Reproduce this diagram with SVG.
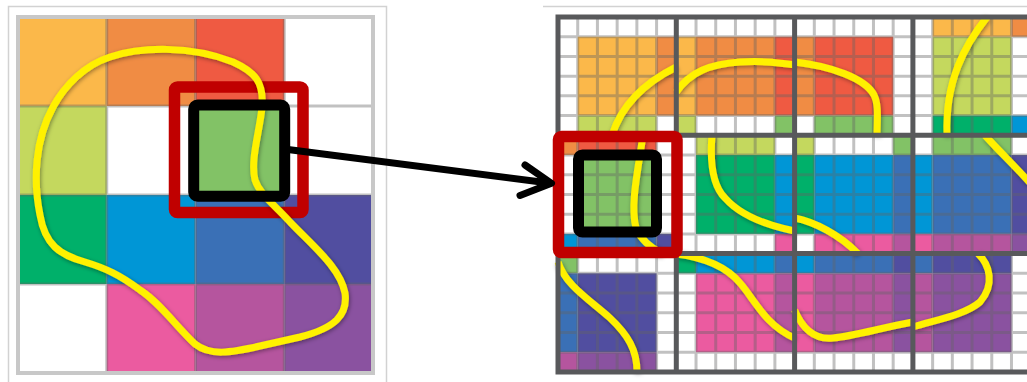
<svg xmlns="http://www.w3.org/2000/svg" width="1027" height="382" viewBox="0 0 1027 382">
  <defs>
    <style>
      .cA{fill:#FBB84A}.cB{fill:#F08C44}.cC{fill:#EF5A42}.cD{fill:#C4D85E}
      .cE{fill:#82C266}.cF{fill:#00B06A}.cG{fill:#0096D6}.cH{fill:#3A70B6}
      .cI{fill:#514EA0}.cJ{fill:#EB5BA0}.cK{fill:#B5559E}.cL{fill:#8A52A0}
      .fine{fill:none;stroke:rgba(100,100,100,0.4);stroke-width:3}
      .frame{fill:none;stroke:#C8C8C8;stroke-width:4}
      .edge{fill:none;stroke:#D2D2D2;stroke-width:1.5}
      .tile-line{fill:none;stroke:#58595B;stroke-width:5}
      .curve{fill:none;stroke:#FFF100;stroke-width:7;filter:url(#shade)}
      .halo{fill:none;stroke:#C00000;stroke-width:11.5}
      .cell{fill:none;stroke:#000;stroke-width:11}
      .arrow{fill:none;stroke:#000;stroke-width:7;stroke-linecap:round;stroke-linejoin:round}
    </style>
    <filter id="shade" filterUnits="userSpaceOnUse" x="0" y="0" width="1027" height="382">
      <feDropShadow dx="1" dy="1.5" stdDeviation="2" flood-color="#000" flood-opacity="0.4"/>
    </filter>
  </defs>

  <rect width="1027" height="382" fill="#FFFFFF"/>

  <!-- outer panel edges -->
  <path class="edge" d="M8.5,382 V6.5 H386.5 V382"/>
  <path class="edge" d="M543,6.5 H1027"/>

  <!-- source 4x4 grid -->
  <g id="source-grid">
    <rect class="cA" x="18" y="17" width="88.75" height="89"/>
    <rect class="cB" x="106.75" y="17" width="88.75" height="89"/>
    <rect class="cC" x="195.5" y="17" width="88.75" height="89"/>
    <rect class="cD" x="18" y="106" width="88.75" height="89"/>
    <rect class="cE" x="195.5" y="106" width="88.75" height="89"/>
    <rect class="cF" x="18" y="195" width="88.75" height="89"/>
    <rect class="cG" x="106.75" y="195" width="88.75" height="89"/>
    <rect class="cH" x="195.5" y="195" width="88.75" height="89"/>
    <rect class="cI" x="284.25" y="195" width="88.75" height="89"/>
    <rect class="cJ" x="106.75" y="284" width="88.75" height="89"/>
    <rect class="cK" x="195.5" y="284" width="88.75" height="89"/>
    <rect class="cL" x="284.25" y="284" width="88.75" height="89"/>
    <path class="fine" d="M106.75,17V373M195.5,17V373M284.25,17V373M18,106H373M18,195H373M18,284H373"/>
    <rect class="frame" x="18" y="17" width="355" height="356"/>
  </g>

  <g id="source-halo">
    <rect class="halo" x="174.5" y="87" width="128.5" height="125.5" rx="3"/>
  </g>

  <g id="source-curve">
    <path class="curve" d="M110,57 C140,47 190,45 233,62 C255,72 264,82 262,107 C260,130 250,160 255,180 C260,195 275,205 290,222 C315,248 340,268 345,293 C348,315 335,328 300,337 L260,346 C230,353 210,356 195,344 C175,325 160,303 140,290 C120,275 105,268 85,262 C60,255 45,245 40,215 C33,180 35,140 53,107 C65,85 85,65 110,57 Z"/>
  </g>

  <g id="source-cell">
    <rect class="cell" x="193.7" y="105" width="91" height="91.3" rx="4"/>
  </g>

  <!-- tiled copy: each tile is one filled cell plus a one-sub-cell ring of its neighbours -->
  <g id="tiles">
    <g id="tile-0" transform="translate(558,17) scale(19.7167)">
      <rect class="cA" x="1" y="1" width="4" height="4"/>
      <rect class="cB" x="5" y="1" width="1" height="4"/>
      <rect class="cD" x="1" y="5" width="4" height="1"/>
    </g>
    <g id="tile-1" transform="translate(676.3,17) scale(19.7167)">
      <rect class="cB" x="1" y="1" width="4" height="4"/>
      <rect class="cA" x="0" y="1" width="1" height="4"/>
      <rect class="cC" x="5" y="1" width="1" height="4"/>
      <rect class="cD" x="0" y="5" width="1" height="1"/>
      <rect class="cE" x="5" y="5" width="1" height="1"/>
    </g>
    <g id="tile-2" transform="translate(794.6,17) scale(19.7167)">
      <rect class="cC" x="1" y="1" width="4" height="4"/>
      <rect class="cB" x="0" y="1" width="1" height="4"/>
      <rect class="cE" x="1" y="5" width="4" height="1"/>
    </g>
    <g id="tile-3" transform="translate(912.9,17) scale(19.7167)">
      <rect class="cD" x="1" y="1" width="4" height="4"/>
      <rect class="cA" x="1" y="0" width="4" height="1"/>
      <rect class="cB" x="5" y="0" width="1" height="1"/>
      <rect class="cF" x="1" y="5" width="4" height="1"/>
      <rect class="cG" x="5" y="5" width="1" height="1"/>
    </g>
    <g id="tile-4" transform="translate(558,135.3) scale(19.7167)">
      <rect class="cE" x="1" y="1" width="4" height="4"/>
      <rect class="cB" x="0" y="0" width="1" height="1"/>
      <rect class="cC" x="1" y="0" width="4" height="1"/>
      <rect class="cG" x="0" y="5" width="1" height="1"/>
      <rect class="cH" x="1" y="5" width="4" height="1"/>
      <rect class="cI" x="5" y="5" width="1" height="1"/>
    </g>
    <g id="tile-5" transform="translate(676.3,135.3) scale(19.7167)">
      <rect class="cF" x="1" y="1" width="4" height="4"/>
      <rect class="cD" x="1" y="0" width="4" height="1"/>
      <rect class="cG" x="5" y="1" width="1" height="4"/>
      <rect class="cJ" x="5" y="5" width="1" height="1"/>
    </g>
    <g id="tile-6" transform="translate(794.6,135.3) scale(19.7167)">
      <rect class="cG" x="1" y="1" width="4" height="4"/>
      <rect class="cD" x="0" y="0" width="1" height="1"/>
      <rect class="cE" x="5" y="0" width="1" height="1"/>
      <rect class="cF" x="0" y="1" width="1" height="4"/>
      <rect class="cH" x="5" y="1" width="1" height="4"/>
      <rect class="cJ" x="1" y="5" width="4" height="1"/>
      <rect class="cK" x="5" y="5" width="1" height="1"/>
    </g>
    <g id="tile-7" transform="translate(912.9,135.3) scale(19.7167)">
      <rect class="cH" x="1" y="1" width="4" height="4"/>
      <rect class="cE" x="1" y="0" width="4" height="1"/>
      <rect class="cG" x="0" y="1" width="1" height="4"/>
      <rect class="cI" x="5" y="1" width="1" height="4"/>
      <rect class="cJ" x="0" y="5" width="1" height="1"/>
      <rect class="cK" x="1" y="5" width="4" height="1"/>
      <rect class="cL" x="5" y="5" width="1" height="1"/>
    </g>
    <g id="tile-8" transform="translate(558,253.6) scale(19.7167)">
      <rect class="cI" x="1" y="1" width="4" height="4"/>
      <rect class="cE" x="0" y="0" width="1" height="1"/>
      <rect class="cH" x="0" y="1" width="1" height="4"/>
      <rect class="cK" x="0" y="5" width="1" height="1"/>
      <rect class="cL" x="1" y="5" width="4" height="1"/>
    </g>
    <g id="tile-9" transform="translate(676.3,253.6) scale(19.7167)">
      <rect class="cJ" x="1" y="1" width="4" height="4"/>
      <rect class="cF" x="0" y="0" width="1" height="1"/>
      <rect class="cG" x="1" y="0" width="4" height="1"/>
      <rect class="cH" x="5" y="0" width="1" height="1"/>
      <rect class="cK" x="5" y="1" width="1" height="4"/>
    </g>
    <g id="tile-10" transform="translate(794.6,253.6) scale(19.7167)">
      <rect class="cK" x="1" y="1" width="4" height="4"/>
      <rect class="cG" x="0" y="0" width="1" height="1"/>
      <rect class="cH" x="1" y="0" width="4" height="1"/>
      <rect class="cI" x="5" y="0" width="1" height="1"/>
      <rect class="cJ" x="0" y="1" width="1" height="4"/>
      <rect class="cL" x="5" y="1" width="1" height="4"/>
    </g>
    <g id="tile-11" transform="translate(912.9,253.6) scale(19.7167)">
      <rect class="cL" x="1" y="1" width="4" height="4"/>
      <rect class="cH" x="0" y="0" width="1" height="1"/>
      <rect class="cI" x="1" y="0" width="4" height="1"/>
      <rect class="cK" x="0" y="1" width="1" height="4"/>
    </g>
  </g>

  <!-- sub-cell grid -->
  <g id="tile-grid">
    <path class="fine" d="M577.72,17V371.9M597.43,17V371.9M617.15,17V371.9M636.87,17V371.9M656.58,17V371.9M696.02,17V371.9M715.73,17V371.9M735.45,17V371.9M755.17,17V371.9M774.88,17V371.9M814.32,17V371.9M834.03,17V371.9M853.75,17V371.9M873.47,17V371.9M893.18,17V371.9M932.62,17V371.9M952.33,17V371.9M972.05,17V371.9M991.77,17V371.9M1011.48,17V371.9
      M558,36.72H1031M558,56.43H1031M558,76.15H1031M558,95.87H1031M558,115.58H1031M558,155.02H1031M558,174.73H1031M558,194.45H1031M558,214.17H1031M558,233.88H1031M558,273.32H1031M558,293.03H1031M558,312.75H1031M558,332.47H1031M558,352.18H1031"/>
  </g>

  <!-- curve pieces seen inside each tile -->
  <g id="tile-curves">
    <path class="curve" d="M612,135.3 C620,110 640,85 676.3,67"/>
    <path class="curve" d="M676.3,92 C690,72 710,64 740,62 S785,64 794.6,65"/>
    <path class="curve" d="M794.6,62 C830,66 865,78 874,95 C879,105 877,120 877,135.3"/>
    <path class="curve" d="M987,17 C965,45 945,80 947,135.3"/>
    <path class="curve" d="M643,135.3 C638,170 630,205 636,228 C642,242 655,250 662,253.6"/>
    <path class="curve" d="M712,135.3 C710,160 712,185 725,198 C740,215 765,225 794.6,231"/>
    <path class="curve" d="M794.6,218 C815,222 840,235 858,253.6"/>
    <path class="curve" d="M985,135.3 C1000,152 1015,166 1030,183"/>
    <path class="curve" d="M558,262 C565,285 590,300 610,318 C628,335 637,350 637,371.9"/>
    <path class="curve" d="M676.3,254 C700,257 725,265 740,283 C755,300 765,325 794.6,338"/>
    <path class="curve" d="M794.6,310 C803,330 815,340 833,338 C855,336 880,328 912.9,322"/>
    <path class="curve" d="M978,253.6 C990,265 995,285 980,302 C965,315 935,320 912.9,327"/>
  </g>

  <!-- tile boundaries -->
  <g id="tile-frame">
    <path class="tile-line" d="M558,14.5V374.4M676.3,14.5V374.4M794.6,14.5V374.4M912.9,14.5V374.4M555.5,17H1031M555.5,135.3H1031M555.5,253.6H1031M555.5,371.9H1031"/>
  </g>

  <g id="target-halo">
    <rect class="halo" x="558.5" y="136.5" width="118.5" height="116" rx="3"/>
  </g>

  <g id="target-cell">
    <rect class="cell" x="578.5" y="155" width="78" height="77" rx="4"/>
  </g>

  <g id="connectors">
    <path class="arrow" d="M286,149.2 L549,183"/>
    <polyline class="arrow" points="525,165 551.5,183.3 520,195.5"/>
  </g>
</svg>
